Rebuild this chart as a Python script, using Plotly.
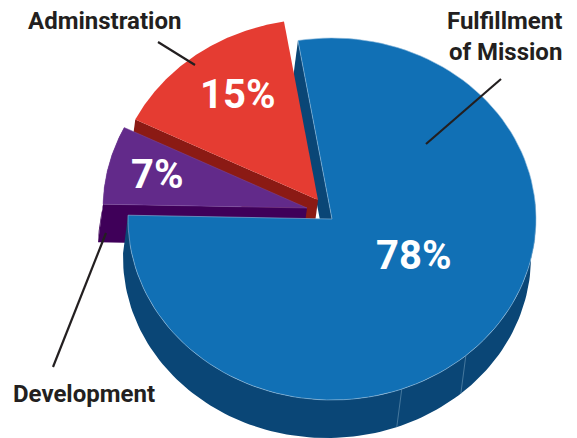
import numpy as np
import plotly.graph_objects as go

categories = ["Fulfillment<br>of Mission", "Adminstration", "Development"]
values = [78, 15, 7]
top_colors = ["#1170b5", "#e53c32", "#622a8a"]
side_colors = ["#0a4676", "#8b1a14", "#3f0059"]
seam_angles = [139, 160]

RX, RY = 204, 181
DX, DY = -5, 38
START = 350.4
APEX = {0: (332, 219), 1: (318, 200), 2: (307, 208)}

# clockwise slice order: blue, purple, red
deg = [v / sum(values) * 360 for v in values]
span = {0: (START, START + deg[0]),
        2: (START + deg[0], START + deg[0] + deg[2]),
        1: (START + deg[0] + deg[2], START + deg[0] + deg[2] + deg[1])}

def arc(i, a0=None, a1=None, n=120):
    a0 = span[i][0] if a0 is None else a0
    a1 = span[i][1] if a1 is None else a1
    t = np.radians(np.linspace(a0, a1, n))
    cx, cy = APEX[i]
    return cx + RX * np.sin(t), cy - RY * np.cos(t)

fig = go.Figure()

def poly(x, y, color, line=None, lw=0):
    fig.add_trace(go.Scatter(x=list(x), y=list(y), mode="lines", fill="toself",
                             fillcolor=color, hoverinfo="skip",
                             line=dict(color=line or color, width=lw), showlegend=False))

def top(i, line=None, lw=0):
    x, y = arc(i)
    cx, cy = APEX[i]
    poly(np.r_[cx, x, cx], np.r_[cy, y, cy], top_colors[i], line, lw)

def radial_wall(i, a):
    x, y = arc(i, a, a, 2)
    cx, cy = APEX[i]
    poly([cx, x[0], x[0] + DX, cx + DX, cx], [cy, y[0], y[0] + DY, cy + DY, cy], side_colors[i])

def rim(i, a0=None, a1=None):
    x, y = arc(i, a0, a1)
    poly(np.r_[x, x[::-1] + DX], np.r_[y, y[::-1] + DY], side_colors[i])

# blue start wall sits behind the red slice
radial_wall(0, span[0][0])
# red
radial_wall(1, span[1][0])
top(1)
# purple
radial_wall(2, span[2][0])
rim(2)
top(2, "#7a4a9e", 0.5)
# blue rim over purple, then top
rim(0, 85, span[0][1] - 360)
for a in seam_angles:
    x, y = arc(0, a, a, 2)
    fig.add_trace(go.Scatter(x=[x[0], x[0] + DX], y=[y[0], y[0] + DY], mode="lines",
                             line=dict(color="#5f8cae", width=0.7), hoverinfo="skip", showlegend=False))
top(0, "#8fbbdc", 0.6)

# leaders
leaders = [((501, 426), (79, 144)), ((158, 195), (42, 65)), ((106, 53), (233, 367))]
for lx, ly in leaders:
    fig.add_trace(go.Scatter(x=list(lx), y=list(ly), mode="lines",
                             line=dict(color="#231f20", width=2.2), hoverinfo="skip", showlegend=False))

FONT = "Roboto, Liberation Sans"
label_pos = [(564, 36, "right"), (104, 21, "center"), (84, 394, "center")]
pct_pos = [(413, 255), (237, 94), (157, 174)]
anns = []
for c, (x, y, al), v, (px, py) in zip(categories, label_pos, values, pct_pos):
    anns.append(dict(x=x, y=y, text=f"<b>{c}</b>", showarrow=False, align=al,
                     xanchor=al, yanchor="middle",
                     font=dict(family=FONT, size=24, color="#231f20")))
    anns.append(dict(x=px, y=py, text=f"<b>{v}%</b>", showarrow=False,
                     xanchor="center", yanchor="middle",
                     font=dict(family=FONT, size=40, color="white")))

fig.update_layout(width=577, height=438, margin=dict(l=0, r=0, t=0, b=0),
                  paper_bgcolor="white", plot_bgcolor="white", annotations=anns,
                  xaxis=dict(range=[0, 577], visible=False, fixedrange=True),
                  yaxis=dict(range=[438, 0], visible=False, fixedrange=True))
fig.write_html("out.html", config={"displayModeBar": False},
               post_script="document.body.style.margin='0';document.body.style.overflow='hidden';")
